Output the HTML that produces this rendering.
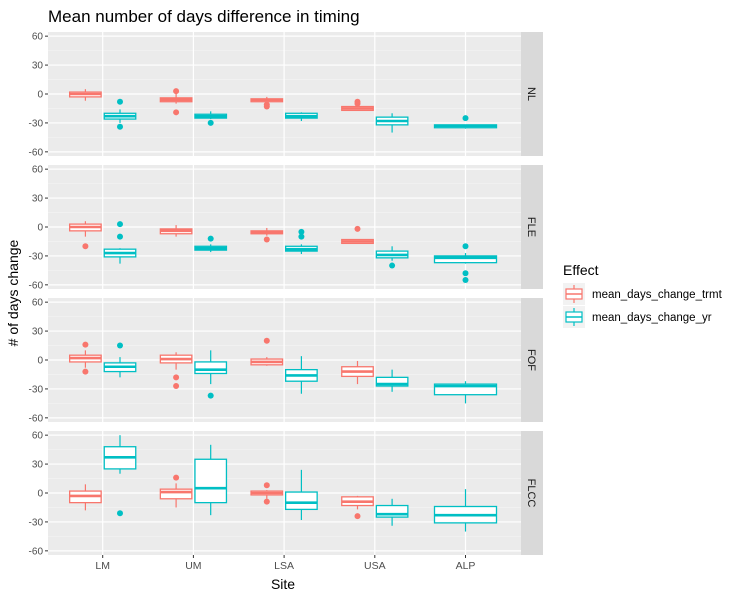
<!DOCTYPE html>
<html><head><meta charset="utf-8"><style>
body{margin:0;background:#fff;}
svg text{font-family:"Liberation Sans",Arial,sans-serif;}
</style></head><body>
<svg id="chart" width="742" height="600" xmlns="http://www.w3.org/2000/svg">
<text x="48" y="22" font-size="17" fill="#000">Mean number of days difference in timing</text>
<text x="283" y="589" font-size="14" text-anchor="middle">Site</text>
<text transform="translate(18,293) rotate(-90)" font-size="14" text-anchor="middle"># of days change</text>
<g id="panels"></g>
<g>
<text x="563" y="275" font-size="14">Effect</text>
<g>
<rect x="563" y="283" width="22" height="22" fill="#F2F2F2"/>
<line x1="574" y1="285" x2="574" y2="303" stroke="#F8766D" stroke-width="1.2"/>
<rect x="566" y="289" width="16" height="10" fill="#fff" stroke="#F8766D" stroke-width="1.2"/>
<line x1="566" y1="294" x2="582" y2="294" stroke="#F8766D" stroke-width="1.5"/>
<text x="592" y="298" font-size="11.5">mean_days_change_trmt</text></g>
<g>
<rect x="563" y="306" width="22" height="22" fill="#F2F2F2"/>
<line x1="574" y1="308" x2="574" y2="326" stroke="#00BFC4" stroke-width="1.2"/>
<rect x="566" y="312" width="16" height="10" fill="#fff" stroke="#00BFC4" stroke-width="1.2"/>
<line x1="566" y1="317" x2="582" y2="317" stroke="#00BFC4" stroke-width="1.5"/>
<text x="592" y="321" font-size="11.5">mean_days_change_yr</text></g>
</g>
</svg>
<script>
const sites=["LM","UM","LSA","USA","ALP"];
const facets=["NL","FLE","FOF","FLCC"];
const yTicks=[60,30,0,-30,-60];
// each box: [facet, site, series, lowWhisker, q1, median, q3, highWhisker, outliers]
const trmtBoxes=[
["NL","LM",-7,-3,0,2,5,[]],["NL","UM",-10,-8,-6,-4,0,[3,-19]],["NL","LSA",-8,-8,-6,-5,-3,[-13,-11]],["NL","USA",-17,-17,-15,-13,-12,[-8,-10]],
["FLE","LM",-10,-4,0,3,6,[-20]],["FLE","UM",-10,-7,-4,-2,2,[]],["FLE","LSA",-9,-7,-6,-4,-1,[-13]],["FLE","USA",-17,-17,-15,-13,-13,[-2]],
["FOF","LM",-8,-2,2,5,10,[16,-12]],["FOF","UM",-10,-3,1,5,8,[-18,-27]],["FOF","LSA",-6,-5,-2,1,3,[20]],["FOF","USA",-25,-17,-12,-7,-1,[]],
["FLCC","LM",-18,-10,-3,2,9,[]],["FLCC","UM",-15,-6,1,4,10,[16]],["FLCC","LSA",-6,-2,0,2,3,[8,-9]],["FLCC","USA",-17,-13,-9,-4,-3,[-24]]
];
const yrBoxes=[
["NL","LM",-30,-26,-23,-20,-16,[-8,-34]],["NL","UM",-26,-25,-23,-21,-18,[-30]],["NL","LSA",-28,-25,-23,-20,-19,[]],["NL","USA",-40,-32,-28,-24,-20,[]],["NL","ALP",-36,-35,-33,-32,-32,[-25]],
["FLE","LM",-38,-31,-27,-23,-22,[3,-10]],["FLE","UM",-26,-24,-22,-20,-18,[-12]],["FLE","LSA",-28,-25,-23,-20,-18,[-5,-10]],["FLE","USA",-35,-32,-29,-25,-20,[-40]],["FLE","ALP",-38,-37,-32,-30,-27,[-20,-48,-55]],
["FOF","LM",-18,-12,-7,-3,3,[15]],["FOF","UM",-25,-14,-10,-2,10,[-37]],["FOF","LSA",-35,-22,-16,-10,4,[]],["FOF","USA",-33,-27,-25,-18,-10,[]],["FOF","ALP",-45,-36,-27,-25,-22,[]],
["FLCC","LM",20,25,37,48,60,[-21]],["FLCC","UM",-23,-10,5,35,50,[]],["FLCC","LSA",-28,-17,-10,1,24,[]],["FLCC","USA",-34,-25,-22,-13,-6,[]],["FLCC","ALP",-40,-31,-23,-14,4,[]]
];
const NS="http://www.w3.org/2000/svg";
const g=document.getElementById("panels");
const PL=48,PR=521,PH=124,STRIP=22;
function panelTop(i){return 32+133*i;}
function xScale(s){return PL+54.7+sites.indexOf(s)*90.7;}
function yScale(v,i){return panelTop(i)+62-v*0.964;}
function mk(tag,attrs,parent){const e=document.createElementNS(NS,tag);for(const k in attrs)e.setAttribute(k,attrs[k]);(parent||g).appendChild(e);return e;}
facets.forEach((f,i)=>{
  const pg=mk("g",{});
  
  
  const top=panelTop(i);
  mk("rect",{x:PL,y:top,width:PR-PL,height:PH,fill:"#EBEBEB"},pg);
  [45,15,-15,-45].forEach(v=>mk("line",{x1:PL,x2:PR,y1:yScale(v,i),y2:yScale(v,i),stroke:"#F5F5F5","stroke-width":0.6},pg));
  yTicks.forEach(v=>{
    const y=yScale(v,i);
    mk("line",{x1:PL,x2:PR,y1:y,y2:y,stroke:"#fff","stroke-width":1.2},pg);
    mk("line",{x1:PL-3,x2:PL,y1:y,y2:y,stroke:"#333","stroke-width":1},pg);
    const t=mk("text",{x:PL-5,y:y+3.5,"font-size":"10","text-anchor":"end",fill:"#4D4D4D"},pg);
    t.textContent=v;
    
    
  });
  sites.forEach(s=>mk("line",{x1:xScale(s),x2:xScale(s),y1:top,y2:top+PH,stroke:"#fff","stroke-width":1.2},pg));
  mk("rect",{x:PR,y:top,width:STRIP,height:PH,fill:"#D9D9D9"},pg);
  const st=mk("text",{transform:`translate(${PR+7},${top+PH/2}) rotate(90)`,"font-size":"11","text-anchor":"middle",fill:"#1A1A1A"},pg);
  st.textContent=f;
  
  
});
function drawBox(b,color,offset,width){
  const i=facets.indexOf(b[0]);const cx=xScale(b[1])+offset;
  const bg=mk("g",{});
  
  
  mk("line",{x1:cx,x2:cx,y1:yScale(b[2],i),y2:yScale(b[6],i),stroke:color,"stroke-width":1.2},bg);
  mk("rect",{x:cx-width/2,y:yScale(b[5],i),width:width,height:Math.max(0.5,yScale(b[3],i)-yScale(b[5],i)),fill:"#fff",stroke:color,"stroke-width":1.3},bg);
  mk("line",{x1:cx-width/2,x2:cx+width/2,y1:yScale(b[4],i),y2:yScale(b[4],i),stroke:color,"stroke-width":2.6},bg);
  b[7].forEach(o=>{const c=mk("circle",{cx:cx,cy:yScale(o,i),r:3,fill:color},bg);
    
    });
}
trmtBoxes.forEach(b=>drawBox(b,"#F8766D",-17.3,31.5));
yrBoxes.forEach(b=>{ if(b[1]==="ALP") drawBox(b,"#00BFC4",0,62); else drawBox(b,"#00BFC4",17.3,31.5);});
const lastBottom=panelTop(3)+PH;
sites.forEach(s=>{
  mk("line",{x1:xScale(s),x2:xScale(s),y1:lastBottom,y2:lastBottom+3,stroke:"#333"});
  const t=mk("text",{x:xScale(s),y:lastBottom+14,"font-size":"10.5","text-anchor":"middle",fill:"#4D4D4D"});
  t.textContent=s;
  
  
});
</script>
</body></html>
